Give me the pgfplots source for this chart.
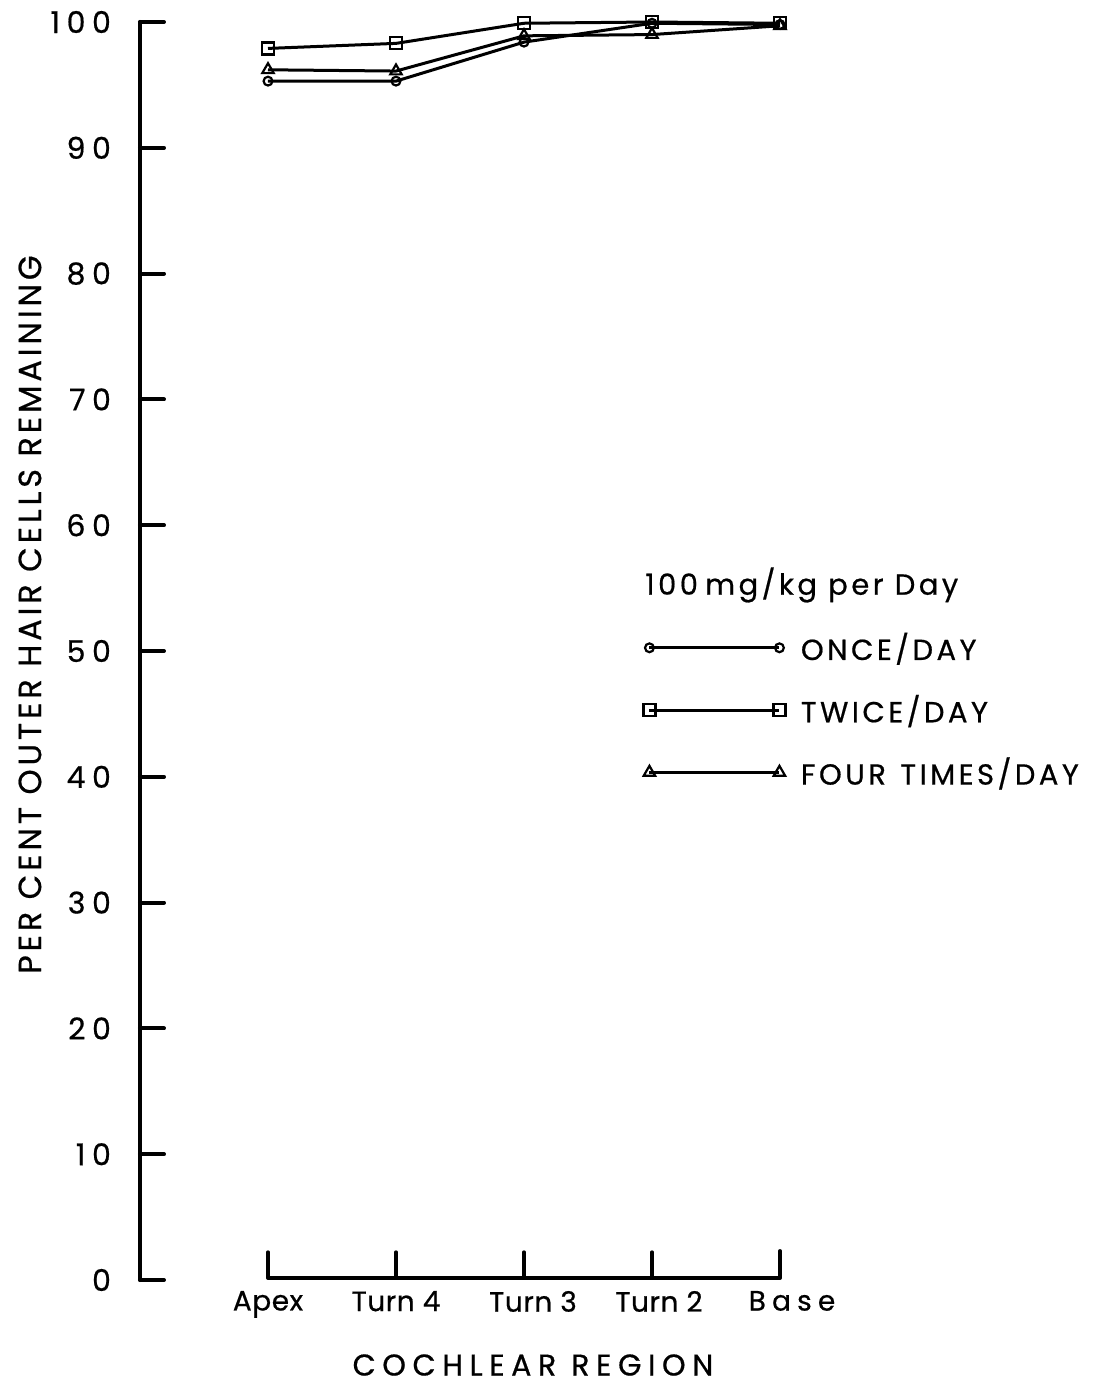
\documentclass[border=0pt]{standalone}
\usepackage{fontspec}
\setmainfont{Poppins}[FakeBold=0.6]
\newfontfamily\spacedfont{Poppins}[LetterSpace=22, FakeBold=0.6]
\newfontfamily\widefont{Poppins}[LetterSpace=12, FakeBold=0.6]
\newfontfamily\plainfont{Poppins}[LetterSpace=2, FakeBold=0.6]
\usepackage{pgfplots}
\pgfplotsset{compat=1.18}

\begin{document}
\begin{tikzpicture}
\begin{axis}[
  scale only axis,
  width=480pt, height=629pt,
  xmin=0, xmax=7.5, ymin=0, ymax=100,
  axis y line*=left,
  axis x line*=bottom,
  x axis line style={draw=none},
  y axis line style={line width=2pt, line cap=round},
  ytick={0,10,...,100},
  tick align=inside,
  major tick length=12pt,
  ytick style={black, line width=2pt, line cap=round},
  xtick={1,2,3,4,5},
  xticklabels={Apex, Turn 4, \hspace*{9pt}Turn 3, \hspace*{7pt}Turn 2,
    \hspace*{12pt}{\spacedfont Base}},
  xtick style={draw=none},
  /pgf/number format/assume math mode=true,
  yticklabel style={font=\spacedfont\fontsize{15}{18}\selectfont, xshift=-11pt},
  xticklabel style={font=\plainfont\fontsize{14}{17}\selectfont, yshift=-2pt},
  clip=false,
  legend style={at={(axis cs:3.93,45.3)}, anchor=west, draw=none, fill=none,
    inner sep=0pt, row sep=12pt, legend cell align=left,
    font=\widefont\fontsize{14.5}{17}\selectfont},
  legend image code/.code={
    \draw[#1] plot coordinates {(0pt,0pt) (65pt,0pt)};
    \path (73pt,0pt);
  },
]
% once a day
\addplot[black, line width=1.5pt, mark=o, mark size=2.2pt,
  mark options={solid, fill=white, line width=1.1pt}] coordinates {
  (1,95.3) (2,95.3) (3,98.4) (4,99.9) (5,99.8)};
\addlegendentry{ONCE/DAY}
% twice a day
\addplot[black, line width=1.5pt, mark=square, mark size=3pt,
  mark options={solid, fill=white, line width=1.1pt}] coordinates {
  (1,97.9) (2,98.3) (3,99.9) (4,100) (5,99.9)};
\addlegendentry{TWICE/DAY}
% four times a day
\addplot[black, line width=1.5pt, mark=triangle, mark size=3.3pt,
  mark options={solid, fill=white, line width=1.1pt}] coordinates {
  (1,96.2) (2,96.1) (3,98.9) (4,99.0) (5,99.7)};
\addlegendentry{FOUR\hspace{0.5em}TIMES/DAY}

% bracket-style category axis
\draw[line width=2pt, line cap=round, line join=round]
  (axis cs:1,2.2) -- (axis cs:1,0.16) -- (axis cs:5,0.16) -- (axis cs:5,2.3);
\draw[line width=2pt, line cap=round] (axis cs:2,0.16) -- (axis cs:2,2.2);
\draw[line width=2pt, line cap=round] (axis cs:3,0.16) -- (axis cs:3,2.2);
\draw[line width=2pt, line cap=round] (axis cs:4,0.16) -- (axis cs:4,2.2);

\node[rotate=90, font=\widefont\fontsize{16}{19}\selectfont]
  at (axis cs:-0.86,52.9) {PER CENT OUTER HAIR CELLS REMAINING};
\node[font=\spacedfont\fontsize{15}{18}\selectfont]
  at (axis cs:3.07,-6.76) {COCHLEAR\hspace{0.5em}REGION};
\node[anchor=west, inner sep=0pt, font=\widefont\fontsize{14.5}{17}\selectfont]
  at (axis cs:3.945,55.25) {100\hspace{0.25em}mg/kg per Day};

\coordinate (bl) at (axis cs:-1.09375,-8.267);
\coordinate (tr) at (axis cs:7.5078,101.75);
\end{axis}
\pgfresetboundingbox
\path (bl) rectangle (tr);
\end{tikzpicture}
\end{document}
